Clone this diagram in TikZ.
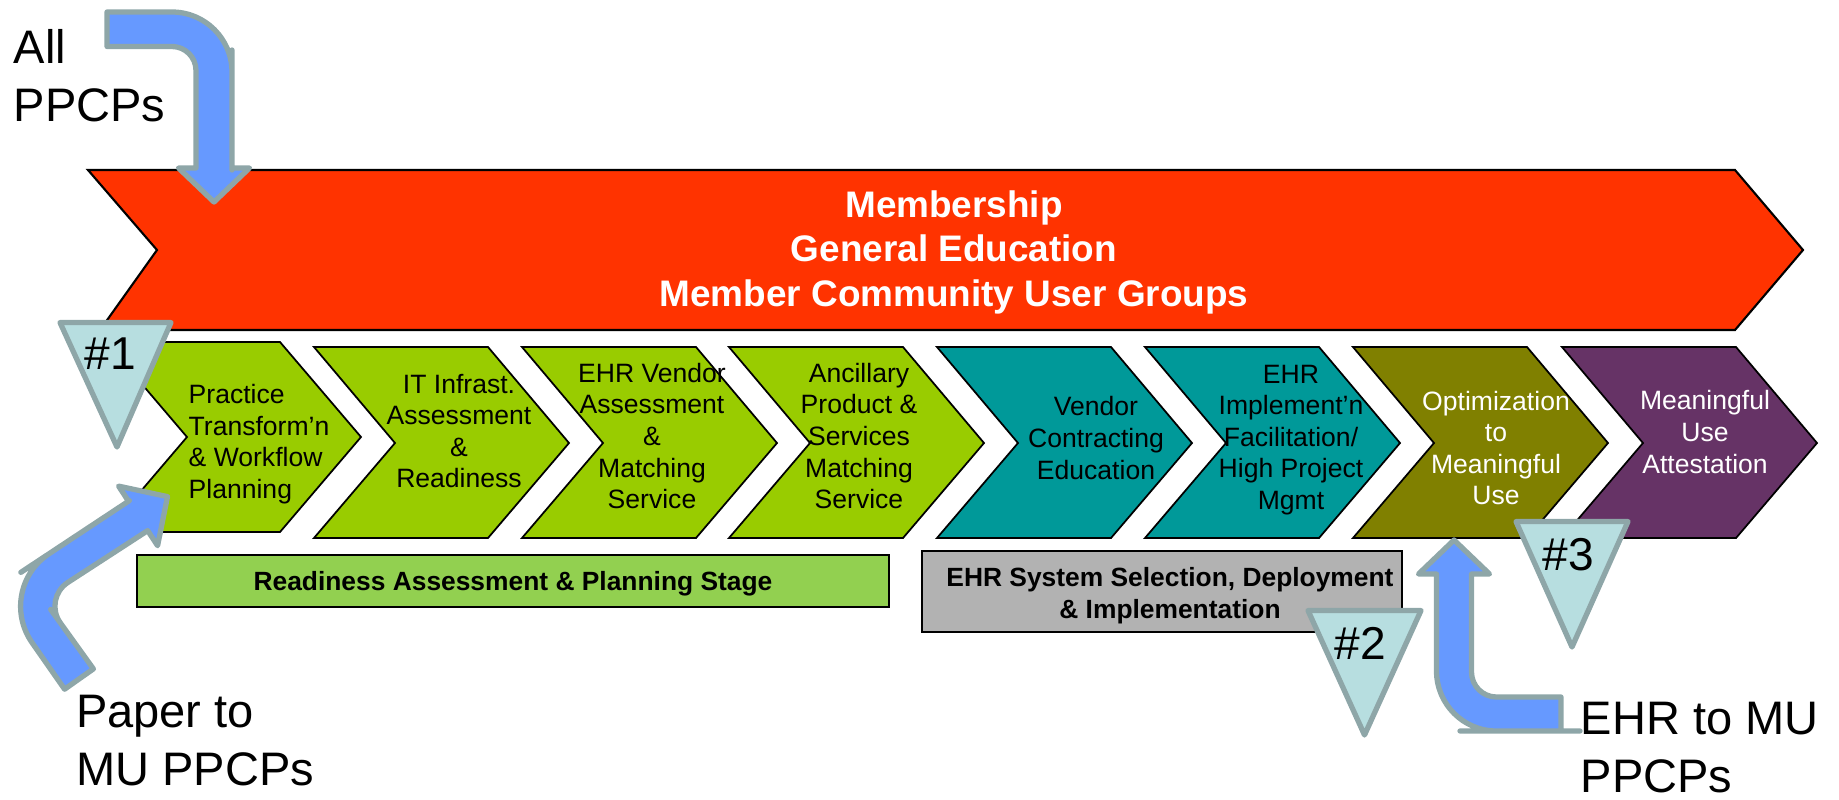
\documentclass[tikz,border=0pt]{standalone}
\usepackage{fontspec}
\setmainfont{Liberation Sans}
\usepackage{tikz}
\definecolor{memred}{HTML}{FF3300}
\definecolor{readygreen}{HTML}{99CC00}
\definecolor{ehrteal}{HTML}{009999}
\definecolor{optolive}{HTML}{808000}
\definecolor{attestpurple}{HTML}{663366}
\definecolor{stagegreen}{HTML}{92D050}
\definecolor{stagegray}{HTML}{B2B2B2}
\definecolor{markfill}{HTML}{B7DEE0}
\definecolor{markline}{HTML}{8EA6A8}
\definecolor{entryblue}{HTML}{6699FF}
\tikzset{chev/.style={draw=black, line width=0.5pt, line join=miter},
         band/.style={chev, fill=memred, line width=0.6pt},
         stagetext/.style={align=center, inner sep=0pt,
                           font=\fontsize{7.55}{8.96}\selectfont},
         bandtext/.style={align=center, inner sep=0pt, text=white,
                          font=\bfseries\fontsize{10.5}{12.66}\selectfont},
         stagebox/.style={draw=black, line width=0.55pt, inner sep=0pt},
         boxtext/.style={align=center, inner sep=0pt,
                         font=\bfseries\fontsize{7.5}{9.1}\selectfont},
         marker/.style={draw=markline, fill=markfill, line width=1.5pt, line join=round},
         marktext/.style={inner sep=0pt, font=\fontsize{13.1}{15}\selectfont},
         entry/.style={draw=markline, fill=entryblue, line width=1.5pt, line join=round},
         entrytext/.style={align=left, inner sep=0pt, anchor=west,
                           font=\fontsize{13.37}{16.5}\selectfont}}

\begin{document}
\begin{tikzpicture}[x=0.01cm, y=-0.01cm]
	\useasboundingbox (0,0) rectangle (1839,799);
	\draw[band] (88,170) -- (1735,170) -- (1803,250) -- (1735,330) -- (100,330) -- (157,250) -- cycle;
	\node[bandtext] (band) at (954,252) {Membership\\General Education\\Member Community User Groups};

	\draw[chev, fill=readygreen] (106,342) -- ++(174,0) -- ++(81,95) -- ++(-81,95) -- ++(-174,0) -- ++(81,-95) -- cycle;
	\draw[chev, fill=readygreen] (314,347) -- ++(174,0) -- ++(81,96) -- ++(-81,95) -- ++(-174,0) -- ++(81,-95) -- cycle;
	\draw[chev, fill=readygreen] (522,347) -- ++(174,0) -- ++(81,96) -- ++(-81,95) -- ++(-174,0) -- ++(81,-95) -- cycle;
	\draw[chev, fill=readygreen] (729,347) -- ++(174,0) -- ++(81,96) -- ++(-81,95) -- ++(-174,0) -- ++(81,-95) -- cycle;
	\draw[chev, fill=ehrteal] (937,347) -- ++(174,0) -- ++(81,96) -- ++(-81,95) -- ++(-174,0) -- ++(81,-95) -- cycle;
	\draw[chev, fill=ehrteal] (1145,347) -- ++(174,0) -- ++(81,96) -- ++(-81,95) -- ++(-174,0) -- ++(81,-95) -- cycle;
	\draw[chev, fill=optolive] (1353,347) -- ++(174,0) -- ++(81,96) -- ++(-81,95) -- ++(-174,0) -- ++(81,-95) -- cycle;
	\draw[chev, fill=attestpurple] (1562,347) -- ++(174,0) -- ++(81,96) -- ++(-81,95) -- ++(-174,0) -- ++(81,-95) -- cycle;

	\node[stagetext, align=left, anchor=west] (s1) at (188,444) {Practice\\Transform’n\\\& Workflow\\Planning};
	\node[stagetext] (s2) at (459,431) {IT Infrast.\\Assessment\\\&\\Readiness};
	\node[stagetext] (s3) at (652,436) {EHR Vendor\\Assessment\\\&\\Matching\\Service};
	\node[stagetext] (s4) at (859,436) {Ancillary\\Product \&\\Services\\Matching\\Service};
	\node[stagetext] (s5) at (1096,438) {Vendor\\Contracting\\Education};
	\node[stagetext] (s6) at (1291,440) {EHR\\Implement’n\\Facilitation/\\High Project\\Mgmt};
	\node[stagetext, text=white] (s7) at (1496,448) {Optimization\\to\\Meaningful\\Use};
	\node[stagetext, text=white] (s8) at (1705,432) {Meaningful\\Use\\Attestation};

	\node[stagebox, fill=stagegreen, minimum width=7.52cm, minimum height=0.52cm] (ready) at (513,581) {};
	\node[boxtext] (readytext) at (513,584) {Readiness Assessment \& Planning Stage};
	\node[stagebox, fill=stagegray, minimum width=4.8cm, minimum height=0.81cm] (deploy) at (1162,591.5) {};
	\node[boxtext] (deploytext) at (1170,596) {EHR System Selection, Deployment\\\& Implementation};

	\draw[marker] (60,322.5) -- (171,322.5) -- (117,447) -- cycle;
	\node[marktext] (m1) at (110.5,354) {\#1};
	\draw[marker] (1308,610.5) -- (1421,610.5) -- (1364.5,735) -- cycle;
	\node[marktext] (m2) at (1360,643) {\#2};
	\draw[marker] (1516,521.5) -- (1628,521.5) -- (1572,647) -- cycle;
	\node[marktext] (m3) at (1568.5,555) {\#3};

	\draw[entry] (107,30) -- (107,12) -- (150,12) [rounded corners=0.6cm] -- (232,12) -- (232,110)
	  [sharp corners] -- (232,168) -- (249.5,168) -- (214,202) -- (178.5,168) -- (196,168) -- (196,110)
	  [rounded corners=0.24cm] -- (196,46.5) -- (150,46.5) [sharp corners] -- (107,46.5) -- cycle;
	\draw[entry] (79,679) -- (64.6,689.2) -- (43.7,659.3) [rounded corners=0.65cm] -- (-5.1,589.5) -- (75.1,536.5)
	  [sharp corners] -- (128.5,501.2) -- (118.6,486.1) -- (167.5,496.6) -- (157.6,545.7) -- (147.7,530.6) -- (105.8,557.8)
	  [rounded corners=0.3cm] -- (42.9,598.6) -- (68.2,633.8) [sharp corners] -- (93.4,668.9) -- cycle;
	\draw[entry] (1561,714) -- (1561,697) -- (1520,697) [rounded corners=0.25cm] -- (1471.5,697) -- (1471.5,640)
	  [sharp corners] -- (1471.5,574) -- (1489.5,574) -- (1454,540) -- (1418.5,574) -- (1436.5,574) -- (1436.5,650)
	  [rounded corners=0.6cm] -- (1436.5,731) -- (1520,731) [sharp corners] -- (1561,731) -- cycle;

	\node[entrytext] (allppcp) at (13,76) {All\\PPCPs};
	\node[entrytext] (paperppcp) at (75.5,741) {Paper to\\MU PPCPs};
	\node[entrytext] (ehrppcp) at (1580,748) {EHR to MU\\PPCPs};
\end{tikzpicture}
\end{document}
